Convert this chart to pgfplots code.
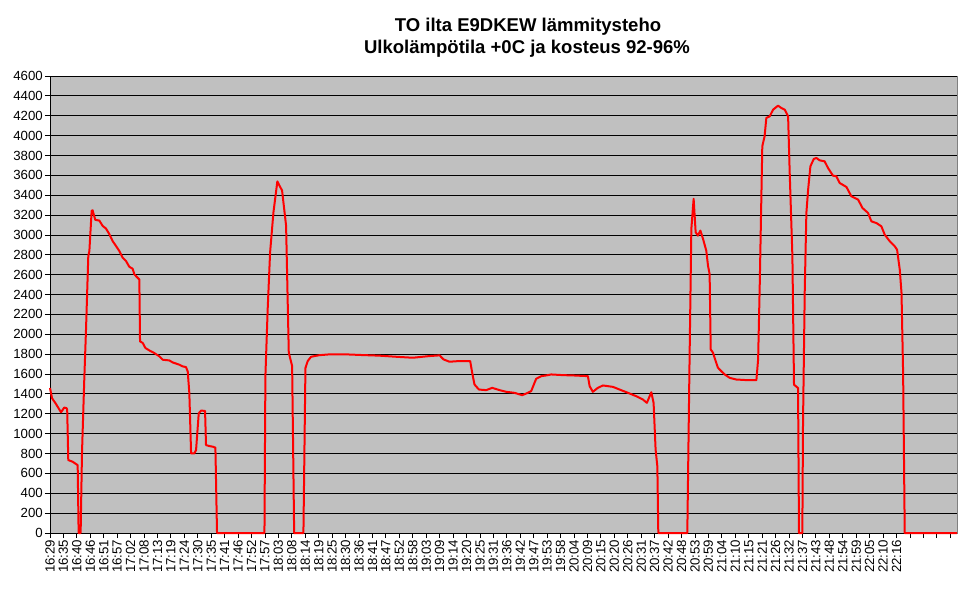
\documentclass[border=0pt]{standalone}
\usepackage{fontspec}
\setmainfont{Liberation Sans}
\usepackage{pgfplots}
\usepackage{pgfplotstable}
\pgfplotsset{compat=1.18}
\definecolor{plotgray}{RGB}{192,192,192}
\definecolor{framegray}{RGB}{128,128,128}

% x is measured in tick steps (one step = about 5.5 min, 0 = 16:29)
\pgfplotstableread{
t     w
0.00  1460
0.15  1357
0.44  1300
0.82  1215
1.06  1263
1.24  1256
1.28  1240
1.36  734
1.69  717
2.06  683
2.13  0
2.28  0
2.38  801
2.55  1542
2.68  2047
2.85  2788
2.93  2838
3.10  3242
3.17  3249
3.25  3209
3.37  3152
3.67  3145
3.92  3091
4.17  3064
4.42  3007
4.66  2939
4.91  2889
5.16  2838
5.41  2771
5.66  2737
5.90  2680
6.15  2660
6.28  2603
6.52  2569
6.65  2552
6.70  1929
6.90  1913
7.10  1862
7.39  1838
7.77  1811
8.14  1778
8.39  1744
8.88  1737
9.13  1717
9.63  1694
9.88  1677
10.12 1670
10.25 1626
10.37 1407
10.50 801
10.74 801
10.87 835
11.07 1205
11.24 1232
11.54 1229
11.61 885
11.86 875
12.11 869
12.31 859
12.43 0
15.96 0
16.03 1579
16.20 2252
16.38 2825
16.63 3229
16.92 3539
17.07 3498
17.27 3448
17.57 3094
17.77 1815
18.02 1680
18.17 0
18.86 0
19.01 1660
19.18 1731
19.43 1774
20.05 1790
20.80 1798
22.04 1798
23.28 1791
24.52 1785
25.76 1774
27.00 1764
28.24 1781
28.99 1788
29.29 1747
29.73 1724
30.48 1731
31.27 1731
31.42 1613
31.59 1495
31.92 1444
32.46 1438
32.91 1461
33.46 1438
33.95 1421
34.57 1411
35.14 1387
35.56 1411
35.81 1428
36.18 1552
36.56 1579
36.93 1586
37.30 1596
38.17 1589
38.92 1586
40.03 1579
40.16 1478
40.40 1421
40.77 1461
41.15 1485
41.89 1471
42.39 1444
43.01 1411
43.63 1377
44.13 1343
44.42 1310
44.75 1417
44.92 1310
45.07 838
45.20 670
45.27 0
47.43 0
47.60 1781
47.73 3061
47.90 3364
48.05 3027
48.22 2993
48.40 3044
48.60 2960
48.84 2842
48.97 2690
49.09 2606
49.17 1848
49.34 1815
49.50 1747
49.71 1663
49.95 1630
50.21 1596
50.58 1562
51.07 1545
51.82 1539
52.57 1539
52.70 1750
52.82 2500
53.01 3893
53.18 3993
53.31 4178
53.56 4194
53.81 4261
54.18 4301
54.43 4278
54.68 4261
54.93 4194
55.05 3624
55.25 2785
55.37 1493
55.67 1459
55.74 0
55.99 0
56.04 1106
56.17 2449
56.29 3221
56.42 3456
56.59 3691
56.84 3765
57.03 3775
57.28 3751
57.65 3741
57.90 3674
58.27 3597
58.52 3590
58.77 3523
59.27 3483
59.64 3389
60.14 3356
60.46 3272
60.88 3221
61.13 3137
61.50 3120
61.87 3087
62.12 3003
62.50 2936
62.87 2885
63.04 2852
63.24 2651
63.37 2416
63.49 1610
63.61 0
67.50 0
}\teho

\begin{document}
\begin{tikzpicture}
\begin{axis}[
  at={(0,0)}, anchor=south west,
  scale only axis, width=907bp, height=457bp,
  xmin=0, xmax=67.5, ymin=0, ymax=4600,
  axis background/.style={fill=plotgray, draw=framegray},
  axis x line*=bottom, axis y line*=left,
  axis line style={black, line width=0.9bp},
  tick align=outside, major tick length=5bp,
  tick style={black, line width=0.9bp},
  ytick={0,200,...,4600},
  ymajorgrids, grid style={black, line width=0.9bp},
  xtick={0,...,67},
  xticklabels={16:29,16:35,16:40,16:46,16:51,16:57,17:02,17:08,17:13,17:19,17:24,17:30,17:35,17:41,17:46,17:52,17:57,18:03,18:08,18:14,18:19,18:25,18:30,18:36,18:41,18:47,18:52,18:58,19:03,19:09,19:14,19:20,19:25,19:31,19:36,19:42,19:47,19:53,19:58,20:04,20:09,20:15,20:20,20:26,20:31,20:37,20:42,20:48,20:53,20:59,21:04,21:10,21:15,21:21,21:26,21:32,21:37,21:43,21:48,21:54,21:59,22:05,22:10,22:16,,,,},
  xticklabel style={rotate=90, anchor=east, font=\fontsize{13.3}{15}\selectfont, inner sep=1.5bp},
  yticklabel style={font=\fontsize{13.3}{15}\selectfont, inner sep=2bp},
  /pgf/number format/assume math mode=true,
  /pgf/number format/1000 sep={},
  clip=false,
]
\addplot[red, line width=2bp, line join=round] table[x=t, y=w] {\teho};
\end{axis}
\node[anchor=base, font=\bfseries\fontsize{18.6}{22}\selectfont] at (478bp,501.3bp) {TO ilta E9DKEW lämmitysteho};
\node[anchor=base, font=\bfseries\fontsize{18.6}{22}\selectfont] at (477bp,479.7bp) {Ulkolämpötila +0C ja kosteus 92-96\%};
\path (-50bp,-57bp) rectangle (918bp,533bp);
\end{tikzpicture}
\end{document}
